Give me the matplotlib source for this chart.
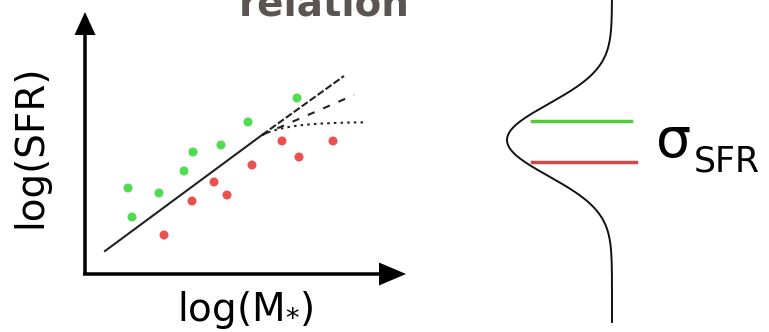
import numpy as np
import matplotlib
matplotlib.use("Agg")
import matplotlib.pyplot as plt

# Star-forming galaxies above / below the main sequence (schematic units)
green_x = [128, 132, 159, 184, 193, 221, 248, 297]
green_y = [188, 217, 193, 171, 152, 145, 122, 98]
red_x = [164, 192, 214, 227, 252, 282, 299, 333]
red_y = [235, 201, 182, 195, 165, 141, 157, 141]

# Main-sequence relation and its high-mass continuations
ms_start = (105, 251)
ms_break = (262, 135)
ms_linear_end = (344, 76)
ms_bent_end = (354, 95)
ms_flat_end = (363, 122)

# Scatter distribution about the relation
gauss_base_x = 612
gauss_peak_y = 140
gauss_amp = 105
gauss_sigma = 36
green_level = 121
red_level = 162

W, H = 769, 332
fig = plt.figure(figsize=(W / 100, H / 100), dpi=100)
ax = fig.add_axes([0, 0, 1, 1])
ax.set_xlim(0, W)
ax.set_ylim(H, 0)
ax.axis("off")

# Axes arrows
ax.arrow(85, 274, 0, -262, width=3.5, head_width=21, head_length=23,
         length_includes_head=True, color="black", lw=0)
ax.arrow(83, 274, 323, 0, width=3.5, head_width=23, head_length=27,
         length_includes_head=True, color="black", lw=0)

# Relation lines
ax.plot([ms_start[0], ms_break[0]], [ms_start[1], ms_break[1]],
        color="#222222", lw=1.5)
ax.plot([ms_break[0], ms_linear_end[0]], [ms_break[1], ms_linear_end[1]],
        color="#222222", lw=1.5, dashes=(3.5, 1.2))
ax.plot([ms_break[0], ms_bent_end[0]], [ms_break[1], ms_bent_end[1]],
        color="#222222", lw=1.5, dashes=(3.5, 4.5))
xc = np.linspace(ms_break[0], ms_flat_end[0], 60)
yc = ms_flat_end[1] + (ms_break[1] - ms_flat_end[1]) * np.exp(-(xc - ms_break[0]) / 28)
ax.plot(xc, yc, color="#222222", lw=1.5, dashes=(1.2, 2.0))

ax.scatter(green_x, green_y, s=42, color="#50dc50", edgecolors="none", zorder=3)
ax.scatter(red_x, red_y, s=42, color="#ee5050", edgecolors="none", zorder=3)

# Axis labels
ax.text(245, 310, r"log(M$_{*}$)", fontsize=28, ha="center", va="center")
ax.text(30, 146, "log(SFR)", fontsize=28, ha="center", va="center", rotation=90)

ax.text(324, 5, "relation", fontsize=28, fontweight="bold", color="#5a5452",
        ha="center", va="center")

# Gaussian distribution
yg = np.linspace(0, 322, 400)
xg = gauss_base_x - gauss_amp * np.exp(-(yg - gauss_peak_y) ** 2 / (2 * gauss_sigma ** 2))
ax.plot(xg, yg, color="#111111", lw=1.4)

ax.plot([532, 631], [green_level, green_level], color="#55c83c", lw=2.5)
ax.plot([532, 636], [red_level, red_level], color="#d04848", lw=2.5)

ax.text(656, 157, "σ", fontsize=40, ha="left", va="baseline")
ax.text(694, 171, "SFR", fontsize=25, ha="left", va="baseline")

fig.savefig("out.png", dpi=100)
